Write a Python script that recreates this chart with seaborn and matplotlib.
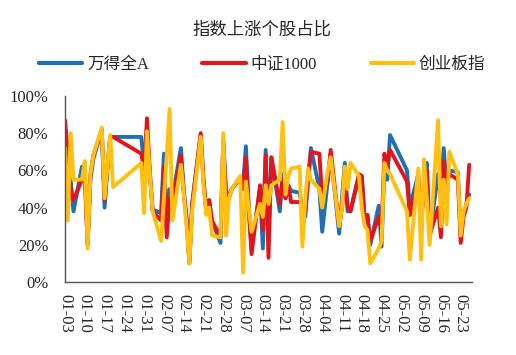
import numpy as np
import pandas as pd
import matplotlib
matplotlib.use("Agg")
import matplotlib.pyplot as plt
import seaborn as sns
from matplotlib.lines import Line2D
from matplotlib.ticker import PercentFormatter

# ---------------- data ----------------
dates = [
    "01-03", "01-04", "01-05", "01-06", "01-09", "01-10", "01-11", "01-12", "01-13",
    "01-16", "01-17", "01-18", "01-19", "01-20", "01-30", "01-31",
    "02-01", "02-02", "02-03", "02-06", "02-07", "02-08", "02-09", "02-10",
    "02-13", "02-14", "02-15", "02-16", "02-17", "02-20", "02-21", "02-22", "02-23",
    "02-24", "02-27", "02-28",
    "03-01", "03-02", "03-03", "03-06", "03-07", "03-08", "03-09", "03-10",
    "03-13", "03-14", "03-15", "03-16", "03-17", "03-20", "03-21", "03-22", "03-23",
    "03-24", "03-27", "03-28", "03-29", "03-30", "03-31",
    "04-03", "04-04", "04-06", "04-07", "04-10", "04-11", "04-12", "04-13", "04-14",
    "04-17", "04-18", "04-19", "04-20", "04-21", "04-24", "04-25", "04-26", "04-27",
    "04-28",
    "05-04", "05-05", "05-08", "05-09", "05-10", "05-11", "05-12", "05-15", "05-16",
    "05-17", "05-18", "05-19", "05-22", "05-23", "05-24", "05-25", "05-26",
]

wind_a = [
    72, 58, 55, 38, 62, 58, 20, 55, 66, 82, 40, 60, 78, 78, 78, 62,
    82, 58, 39, 37, 69, 30, 50, 45, 72, 50, 35, 10, 42, 79, 55, 37, 44, 33, 21, 76,
    48, 45, 50, 56, 52, 73, 40, 18, 50, 18, 71, 22, 67, 38, 58, 45, 52, 49, 48, 40,
    35, 55, 72,
    50, 27, 55, 69, 26, 45, 64, 38, 38, 57, 57, 34, 36, 20, 41, 19, 62, 55, 79,
    60, 40, 58, 30, 55, 64, 25, 58, 45, 72, 50, 60, 59, 25, 37, 42, 47,
]

csi1000 = [
    87, 70, 50, 44, 55, 58, 20, 58, 68, 82, 44, 62, 78, 78, 69, 60,
    88, 60, 38, 33, 62, 24, 45, 42, 68, 48, 33, 11, 42, 80, 55, 38, 44, 33, 24, 75,
    45, 47, 50, 56, 50, 67, 40, 15, 52, 28, 68, 13, 67, 42, 55, 45, 52, 43, 43, 40,
    38, 55, 70,
    69, 45, 55, 71, 30, 40, 55, 40, 38, 58, 57, 34, 36, 22, 35, 28, 69, 62, 71,
    54, 36, 55, 30, 52, 60, 25, 40, 24, 65, 52, 58, 55, 21, 35, 40, 63,
]

chinext = [
    72, 33, 80, 55, 55, 65, 18, 58, 68, 83, 45, 62, 79, 51, 64, 37,
    81, 58, 38, 22, 45, 68, 93, 33, 63, 48, 30, 10, 38, 78, 52, 36, 40, 25, 24, 80,
    25, 45, 50, 57, 5, 54, 40, 27, 42, 35, 52, 42, 52, 55, 86, 47, 57, 61, 62, 19,
    45, 61, 55,
    50, 40, 60, 67, 30, 40, 62, 50, 64, 57, 40, 30, 28, 10, 18, 22, 64, 60, 58,
    38, 12, 61, 12, 66, 45, 20, 87, 30, 55, 31, 70, 58, 25, 38, 42, 45,
]

series_names = ["万得全A", "中证1000", "创业板指"]
series_colors = ["#1f6fb5", "#e2141c", "#ffc012"]
tick_labels = [
    "01-03", "01-10", "01-17", "01-24", "01-31", "02-07", "02-14", "02-21",
    "02-28", "03-07", "03-14", "03-21", "03-28", "04-04", "04-11", "04-18",
    "04-25", "05-02", "05-09", "05-16", "05-23",
]
title_text = "指数上涨个股占比"

# ---------------- figure ----------------
sns.set_theme(style="white")
plt.rcParams["font.family"] = ["Liberation Serif", "Noto Sans CJK SC", "DejaVu Sans"]

W, H = 516, 355
fig = plt.figure(figsize=(W / 100, H / 100), dpi=100)
ax = fig.add_axes([65 / W, 1 - 282 / H, (472 - 65) / W, (282 - 96) / H])

dt = pd.to_datetime(["2023-" + d for d in dates])
df = pd.DataFrame({
    "date": np.tile(dt, 3),
    "value": np.concatenate([wind_a, csi1000, chinext]) / 100.0,
    "series": np.repeat(series_names, len(dates)),
})

sns.lineplot(data=df, x="date", y="value", hue="series", hue_order=series_names,
             palette=series_colors, linewidth=2.8, estimator=None, sort=False,
             legend=False, ax=ax)

tick_dates = pd.to_datetime(["2023-" + t for t in tick_labels])
ax.set_xticks(tick_dates)
ax.set_xticklabels(tick_labels, rotation=-90, fontsize=12)
ax.set_xlim(pd.Timestamp("2023-01-03"), pd.Timestamp("2023-05-27"))

ax.set_ylim(0, 1)
ax.set_yticks(np.arange(0, 1.01, 0.2))
ax.yaxis.set_major_formatter(PercentFormatter(1.0, decimals=0))
ax.tick_params(axis="y", labelsize=12, direction="in", length=4, pad=12,
               color="#555555")
ax.tick_params(axis="x", direction="in", length=4, pad=9, color="#555555")
ax.set_xlabel("")
ax.set_ylabel("")
ax.grid(False)

for s in ["top", "right"]:
    ax.spines[s].set_visible(False)
for s in ["left", "bottom"]:
    ax.spines[s].set_color("#555555")
    ax.spines[s].set_linewidth(1.0)

fig.text(0.508, 1 - 30 / H, title_text, ha="center", va="center", fontsize=12.5)

handles = [Line2D([0], [0], color=c, lw=3) for c in series_colors]
fig.legend(handles, series_names, loc="center", bbox_to_anchor=(0.508, 1 - 65 / H),
           ncol=3, frameon=False, fontsize=12, handlelength=2.6,
           columnspacing=3.2, handletextpad=0.3)

fig.savefig("out.png", dpi=100)
